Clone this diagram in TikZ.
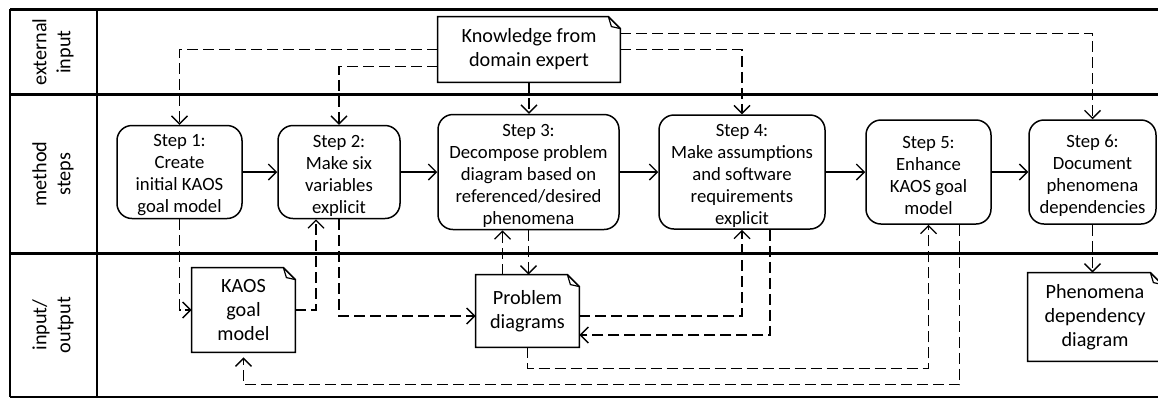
\documentclass[tikz,border=0pt]{standalone}
\usepackage{fontspec}
\setmainfont{Carlito}
\usetikzlibrary{arrows.meta}

\tikzset{
  stepbox/.style={draw, line width=0.75pt, rounded corners=7.5pt, align=center, inner sep=0pt,
    font=\fontsize{9.35}{11}\selectfont},
  docbox/.style={align=center, inner sep=0pt},
  lanelabel/.style={rotate=90, align=center},
  flow/.style={line width=0.7pt, -{Straight Barb[length=4pt,width=8pt]}},
  dflow/.style={flow, dash pattern=on 5.5pt off 2.5pt},
}

% first line of a step box
\newcommand{\stepno}[1]{\rule{0pt}{9.5pt}Step #1:}

% outline of a document shape with a folded corner
\newcommand{\drawdoc}[1]{%
  \draw[line width=0.75pt] (#1.south west) -- (#1.north west) -- ([xshift=-6pt]#1.north east)
    -- ([yshift=-6pt]#1.north east) -- (#1.south east) -- cycle;
  \draw[line width=0.6pt] ([xshift=-6pt]#1.north east) -- ([xshift=-4.5pt,yshift=-5pt]#1.north east)
    -- ([yshift=-6pt]#1.north east);
}

\begin{document}
\begin{tikzpicture}[x=0.5pt, y=-0.5pt, font=\fontsize{10.1}{12}\selectfont]
\useasboundingbox (0,0) rectangle (1158,398);

% swimlanes
\draw[line width=1.5pt] (10,9) -- (1158,9);
\draw[line width=1.5pt] (10,94) -- (1158,94);
\draw[line width=1.5pt] (10,253) -- (1158,253);
\draw[line width=0.8pt] (10,397) -- (1158,397);
\draw[line width=0.8pt] (10,9) -- (10,397);
\draw[line width=0.8pt] (97,9) -- (97,397);
\node[lanelabel] (lext) at (53,52) {external\\input};
\node[lanelabel] (lmeth) at (53,174) {method\\steps};
\node[lanelabel] (lio) at (53,325) {input/\\output};

% external input
\node[docbox, minimum width=91pt, minimum height=32.5pt] (know) at (529,49.5) {Knowledge from\\domain expert};
\drawdoc{know}

% method steps
\node[stepbox, minimum width=62.5pt, minimum height=46.5pt] (s1) at (179.5,172) {\stepno{1}\\Create\\initial KAOS\\goal model};
\node[stepbox, minimum width=61pt, minimum height=46.5pt] (s2) at (339,172) {\stepno{2}\\Make six\\variables\\explicit};
\node[stepbox, minimum width=90.5pt, minimum height=57.5pt] (s3) at (528.5,172) {\stepno{3}\\Decompose problem\\diagram based on\\referenced/desired\\phenomena};
\node[stepbox, minimum width=83pt, minimum height=57pt] (s4) at (742,172) {\stepno{4}\\Make assumptions\\and software\\requirements\\explicit};
\node[stepbox, minimum width=62.5pt, minimum height=52pt] (s5) at (928.5,172) {\stepno{5}\\Enhance\\KAOS goal\\model};
\node[stepbox, minimum width=63.5pt, minimum height=52pt] (s6) at (1092.5,172) {\stepno{6}\\Document\\phenomena\\dependencies};

% input/output
\node[docbox, minimum width=51.5pt, minimum height=42pt] (kaos) at (243.5,310) {KAOS\\goal\\model};
\drawdoc{kaos}
\node[docbox, minimum width=51.5pt, minimum height=36pt] (prob) at (527.5,311) {Problem\\diagrams};
\drawdoc{prob}
\node[docbox, minimum width=67pt, minimum height=44pt] (phen) at (1095,317) {Phenomena\\dependency\\diagram};
\drawdoc{phen}

% step sequence
\draw[flow] (s1) -- (s2);
\draw[flow] (s2) -- (s3);
\draw[flow] (s3) -- (s4);
\draw[flow] (s4) -- (s5);
\draw[flow] (s5) -- (s6);

% domain knowledge
\draw[dflow] (know.west) -| (s1.north);
\draw[dflow] ([yshift=-8.5pt]know.west) -| (s2.north);
\draw[dflow] (know.south) -- (know.south |- s3.north);
\draw[dflow] (know.east) -| (s4.north);
\draw[dflow] ([yshift=8pt]know.east) -| (s6.north);

% inputs and outputs
\draw[dflow] (s1.south) |- (kaos.west);
\draw[dflow] (kaos.east) -| ([xshift=-11.5pt]s2.south);
\draw[dflow] (s2.south) |- ([yshift=-2.5pt]prob.west);
\draw[dflow] ([xshift=-12.5pt]prob.north) -- ([xshift=-12.5pt]prob.north |- s3.south);
\draw[dflow] (s3.south) -- (s3.south |- prob.north);
\draw[dflow] ([yshift=-2.5pt]prob.east) -| (s4.south);
\draw[dflow] ([xshift=14pt]s4.south) |- ([yshift=-12pt]prob.east);
\draw[dflow] (prob.south) -- ++(0,21) -| (s5.south);
\draw[dflow, shorten >=2.5pt] ([xshift=15.5pt]s5.south) -- ++(0,160) -| (kaos.south);
\draw[dflow] (s6.south) -- (s6.south |- phen.north);
\end{tikzpicture}
\end{document}
